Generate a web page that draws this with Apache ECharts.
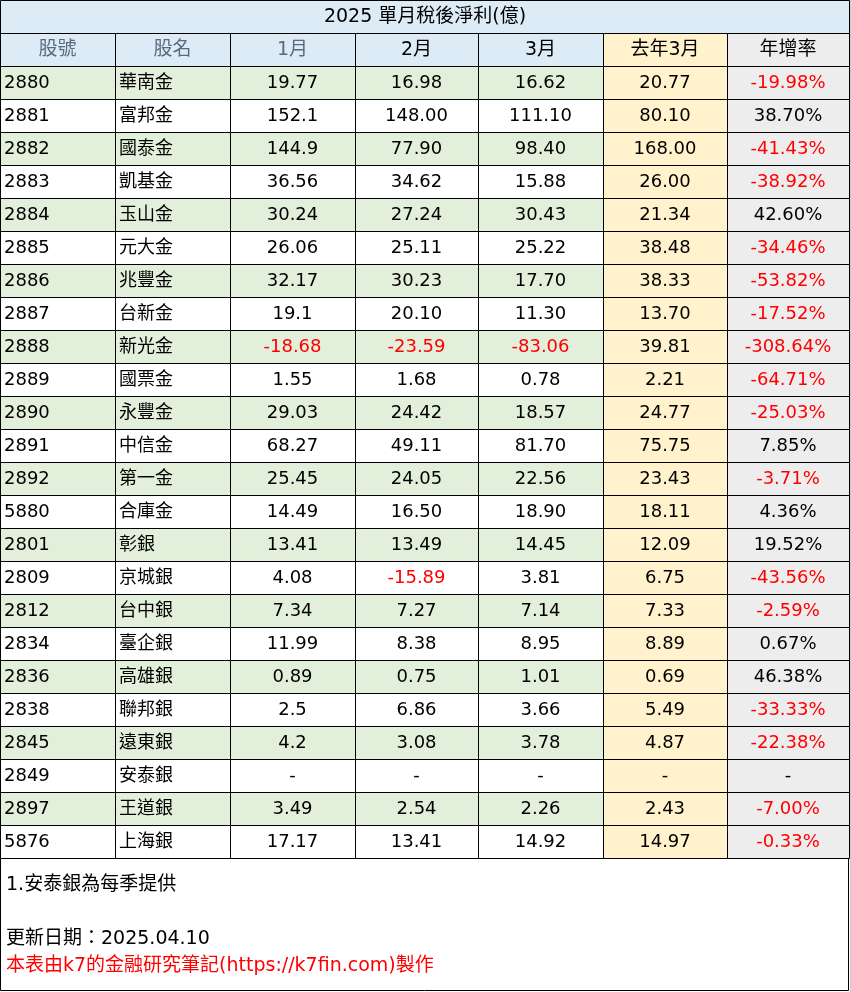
<!DOCTYPE html>
<html>
<head>
<meta charset="utf-8"/>
<title>2025 單月稅後淨利</title>
<script src="https://cdn.jsdelivr.net/npm/echarts@6/dist/echarts.min.js"></script>
<style>
  html, body { margin: 0; padding: 0; background: #fff; }
  #chart { width: 851px; height: 992px; }
</style>
</head>
<body>
<div id="chart"></div>
<script>
// 表格資料
var headers = ['股號', '股名', '1月', '2月', '3月', '去年3月', '年增率'];
var codes = ['2880','2881','2882','2883','2884','2885','2886','2887','2888','2889','2890','2891','2892','5880','2801','2809','2812','2834','2836','2838','2845','2849','2897','5876'];
var names = ['華南金','富邦金','國泰金','凱基金','玉山金','元大金','兆豐金','台新金','新光金','國票金','永豐金','中信金','第一金','合庫金','彰銀','京城銀','台中銀','臺企銀','高雄銀','聯邦銀','遠東銀','安泰銀','王道銀','上海銀'];
var jan = ['19.77','152.1','144.9','36.56','30.24','26.06','32.17','19.1','-18.68','1.55','29.03','68.27','25.45','14.49','13.41','4.08','7.34','11.99','0.89','2.5','4.2','-','3.49','17.17'];
var feb = ['16.98','148.00','77.90','34.62','27.24','25.11','30.23','20.10','-23.59','1.68','24.42','49.11','24.05','16.50','13.49','-15.89','7.27','8.38','0.75','6.86','3.08','-','2.54','13.41'];
var mar = ['16.62','111.10','98.40','15.88','30.43','25.22','17.70','11.30','-83.06','0.78','18.57','81.70','22.56','18.90','14.45','3.81','7.14','8.95','1.01','3.66','3.78','-','2.26','14.92'];
var lastMar = ['20.77','80.10','168.00','26.00','21.34','38.48','38.33','13.70','39.81','2.21','24.77','75.75','23.43','18.11','12.09','6.75','7.33','8.89','0.69','5.49','4.87','-','2.43','14.97'];
var yoy = ['-19.98%','38.70%','-41.43%','-38.92%','42.60%','-34.46%','-53.82%','-17.52%','-308.64%','-64.71%','-25.03%','7.85%','-3.71%','4.36%','19.52%','-43.56%','-2.59%','0.67%','46.38%','-33.33%','-22.38%','-','-7.00%','-0.33%'];
var title = '2025 單月稅後淨利(億)';
var notes = ['1.安泰銀為每季提供', '更新日期：2025.04.10'];
var credit = '本表由k7的金融研究筆記(https://k7fin.com)製作';

// 版面
var colEdges = [0, 115, 230, 355, 478, 603, 727, 849];
var FAMILY = 'DejaVu Sans, Noto Sans CJK TC, sans-serif';

var columns = [codes, names, jan, feb, mar, lastMar, yoy];
var rowLabels = ['header'].concat(codes);
var cells = [];
for (var r = 0; r < rowLabels.length; r++) {
    for (var c = 0; c < 7; c++) {
        cells.push([c, r, r === 0 ? headers[c] : columns[c][r - 1]]);
    }
}

function bgColor(c, r) {
    if (c === 5) return '#fff2cc';
    if (c === 6) return '#ededed';
    if (r === 0) return '#ddebf7';
    return (r % 2 === 1) ? '#e2efda' : '#ffffff';
}

function textColor(c, r, txt) {
    if (r === 0) return (c <= 2) ? '#5a6b7d' : '#000';
    if (c >= 2 && txt.charAt(0) === '-' && txt.length > 1) return '#ff0000';
    return '#000';
}

function label(x, y, text, color, size, align) {
    return { type: 'text', x: x, y: y, style: { text: text, fontSize: size, fontFamily: FAMILY,
             fill: color, align: align || 'left', verticalAlign: 'middle' } };
}

var chart = echarts.init(document.getElementById('chart'));
chart.setOption({
    animation: false,
    grid: { left: 0, top: 33, width: 849, height: 825 },
    xAxis: { type: 'value', min: 0, max: 849, show: false },
    yAxis: { type: 'category', data: rowLabels, inverse: true, show: false },
    graphic: [
        { type: 'rect', shape: { x: 0.5, y: 0.5, width: 849, height: 33 }, style: { fill: '#ddebf7', stroke: '#000', lineWidth: 1 } },
        label(425, 17, title, '#000', 19, 'center'),
        { type: 'rect', shape: { x: 0.5, y: 858.5, width: 848, height: 132 }, style: { fill: 'none', stroke: '#000', lineWidth: 1 } },
        label(6, 885, notes[0], '#000', 19),
        label(6, 939, notes[1], '#000', 19),
        label(6, 966, credit, '#ff0000', 19),
        { type: 'rect', shape: { x: 850, y: 0, width: 1, height: 992 }, style: { fill: '#cccccc' } }
    ],
    series: [{
        type: 'custom',
        data: cells,
        renderItem: function (params, api) {
            var c = api.value(0), r = api.value(1);
            var txt = cells[params.dataIndex][2];
            var p = api.coord([colEdges[c], r]);
            var h = api.size([0, 1])[1];
            var x0 = p[0], x1 = api.coord([colEdges[c + 1], r])[0];
            var y0 = p[1] - h / 2;
            var left = (c <= 1 && r > 0);
            return {
                type: 'group',
                children: [
                    { type: 'rect', shape: { x: x0 + 0.5, y: y0 + 0.5, width: x1 - x0, height: h },
                      style: { fill: bgColor(c, r), stroke: '#000', lineWidth: 1 } },
                    { type: 'text', x: left ? x0 + 4 : (x0 + x1) / 2, y: p[1] + 1,
                      style: { text: txt, fontSize: r === 0 ? 19 : 18, fontFamily: FAMILY,
                               fill: textColor(c, r, txt), align: left ? 'left' : 'center', verticalAlign: 'middle' } }
                ]
            };
        }
    }]
});
</script>
</body>
</html>
